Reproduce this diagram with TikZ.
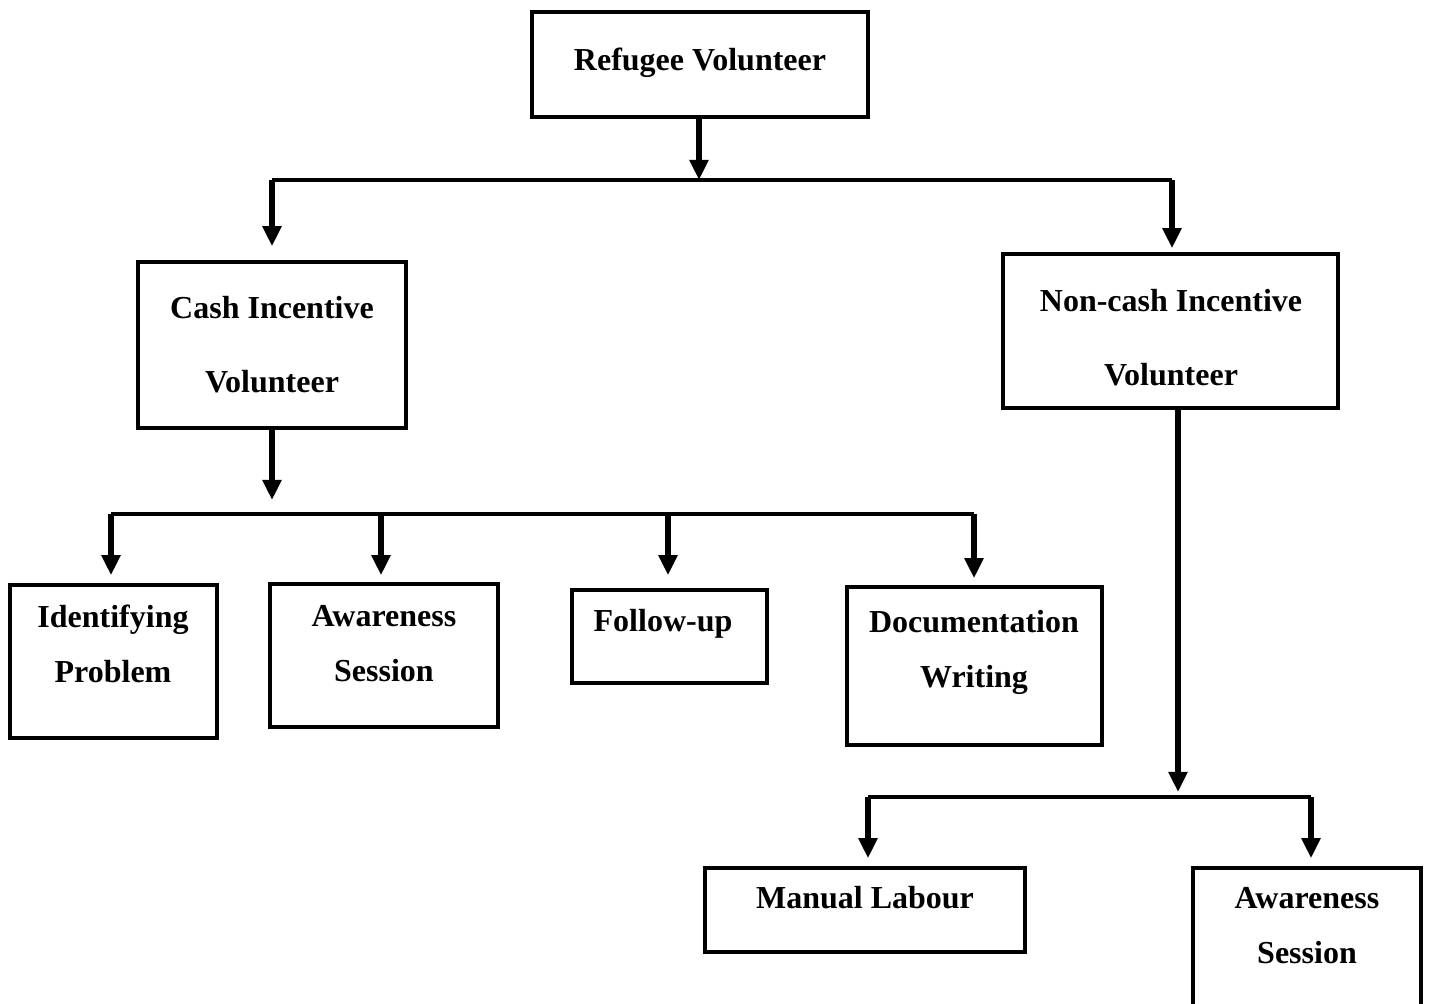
\documentclass[tikz,border=0pt]{standalone}
\usepackage{fontspec}
\setmainfont{Liberation Serif}
\usetikzlibrary{arrows.meta}
\begin{document}
\begin{tikzpicture}[x=0.5pt,y=-0.5pt,
  box/.style={draw, line width=1.75pt, inner sep=0pt, rectangle},
  lbl/.style={anchor=base, inner sep=0pt, font=\fontsize{16pt}{19pt}\selectfont\bfseries},
  hline/.style={line width=2pt},
  conn/.style={line width=3.3pt, -{Triangle[width=9pt,length=10pt]}}]
\useasboundingbox (0,0) rectangle (1431,1004);
\clip (0,0) rectangle (1431,1004);
% boxes
\node[box, minimum width=168pt, minimum height=52.5pt] (ref) at (700,64.5) {};
\node[box, minimum width=134pt, minimum height=83pt] (cash) at (272,345) {};
\node[box, minimum width=167.5pt, minimum height=77pt] (non) at (1170.5,331) {};
\node[box, minimum width=103.5pt, minimum height=76.5pt] (ident) at (113.5,661.5) {};
\node[box, minimum width=114pt, minimum height=71.5pt] (aw1) at (384,655.5) {};
\node[box, minimum width=97.5pt, minimum height=46.5pt] (fol) at (669.5,636.5) {};
\node[box, minimum width=127.5pt, minimum height=79pt] (doc) at (974.5,666) {};
\node[box, minimum width=160pt, minimum height=42pt] (man) at (865,910) {};
\node[box, minimum width=114pt, minimum height=81pt] (aw2) at (1307,949) {};
% labels
\node[lbl] (tref) at (700,71) {Refugee Volunteer};
\node[lbl] (tcash1) at (272,319) {Cash Incentive};
\node[lbl] (tcash2) at (272,393) {Volunteer};
\node[lbl] (tnon1) at (1171,312) {Non-cash Incentive};
\node[lbl] (tnon2) at (1171,386) {Volunteer};
\node[lbl] (tid1) at (113,628) {Identifying};
\node[lbl] (tid2) at (113,683) {Problem};
\node[lbl] (taw1) at (384,627) {Awareness};
\node[lbl] (taw2) at (384,682) {Session};
\node[lbl] (tfol) at (663,632) {Follow-up};
\node[lbl] (tdoc1) at (974,633) {Documentation};
\node[lbl] (tdoc2) at (974,688) {Writing};
\node[lbl] (tman) at (865,909) {Manual Labour};
\node[lbl] (taw3) at (1307,909) {Awareness};
\node[lbl] (taw4) at (1307,964) {Session};
% junction coordinates
\coordinate (j1) at (699,180);
\coordinate (h1l) at (272,180);
\coordinate (h1r) at (1172,180);
\coordinate (j2) at (272,514);
\coordinate (h2a) at (111,514);
\coordinate (h2b) at (381,514);
\coordinate (h2c) at (668,514);
\coordinate (h2d) at (974,514);
\coordinate (ns) at (1178,408);
\coordinate (j3) at (1178,797);
\coordinate (h3l) at (868,797);
\coordinate (h3r) at (1311,797);
% connectors
\draw[conn] (ref.south -| j1) -- (j1);
\draw[hline] (h1l) -- (h1r);
\draw[conn, shorten >=7pt] (h1l) -- (cash.north);
\draw[conn, shorten >=2pt] (h1r) -- (h1r |- non.north);
\draw[conn, shorten >=7pt] (cash.south) -- (j2);
\draw[hline] (h2a) -- (h2d);
\draw[conn, shorten >=4pt] (h2a) -- (h2a |- ident.north);
\draw[conn, shorten >=3.5pt] (h2b) -- (h2b |- aw1.north);
\draw[conn, shorten >=6.5pt] (h2c) -- (h2c |- fol.north);
\draw[conn, shorten >=3.5pt] (h2d) -- (h2d |- doc.north);
\draw[conn, shorten >=2.5pt] (ns |- non.south) -- (j3);
\draw[hline] (h3l) -- (h3r);
\draw[conn, shorten >=4pt] (h3l) -- (h3l |- man.north);
\draw[conn, shorten >=4pt] (h3r) -- (h3r |- aw2.north);
\end{tikzpicture}
\end{document}
